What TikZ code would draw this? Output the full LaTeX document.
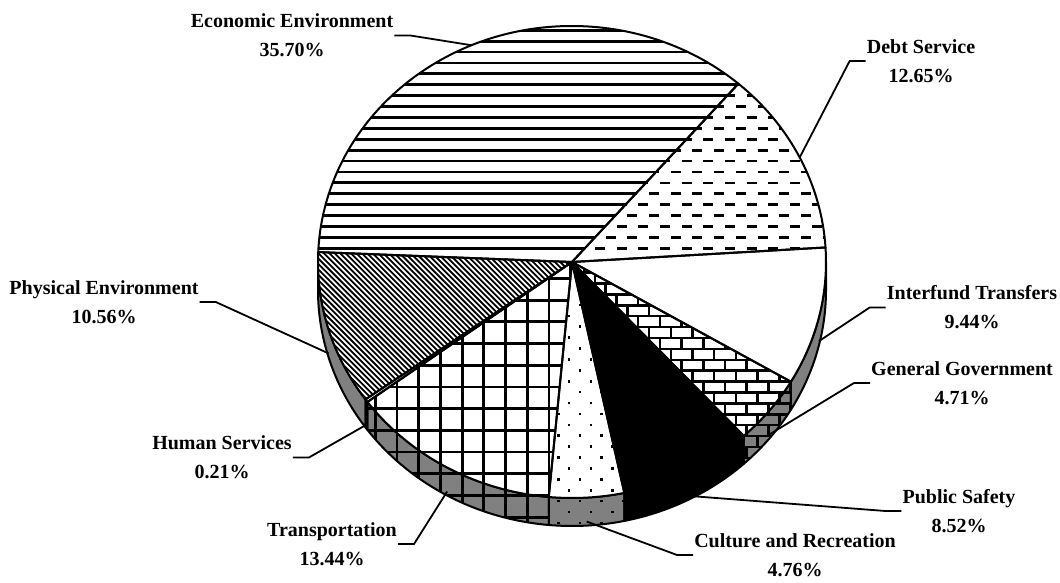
\documentclass[tikz,border=0pt]{standalone}
\usepackage{fontspec}
\setmainfont{Liberation Serif}
\usetikzlibrary{calc}
\definecolor{sidegray}{RGB}{128,128,128}
\newcommand{\pieRx}{254pt}
\newcommand{\pieRy}{236pt}
\newcommand{\pieslice}[2]{(C) -- ($(C)+(#1:254pt and 236pt)$) arc[start angle=#1, end angle=#2, x radius=\pieRx, y radius=\pieRy] -- cycle}
\newcommand{\pieside}[2]{($(C)+(#1:254pt and 236pt)$) arc[start angle=#1, end angle=#2, x radius=\pieRx, y radius=\pieRy] -- ++(0,-28) arc[start angle=#2, end angle=#1, x radius=\pieRx, y radius=\pieRy] -- cycle}
\newcommand{\econlines}{\foreach \k in {0,...,21} \draw[line width=2.8pt] (300,{333.7+10.9*\k}) -- (840,{333.7+10.9*\k});}
\newcommand{\debtdashes}{\foreach \k in {0,...,18} {\pgfmathsetmacro{\xs}{508+10.85*mod(\k,2)} \draw[line width=2.7pt, dash pattern=on 10pt off 11.7pt] (\xs,{333.7+10.9*\k}) -- (850,{333.7+10.9*\k});}}
\newcommand{\bricks}{\foreach \k in {-12,...,10} {\pgfmathsetmacro{\xs}{725+10.85*mod(abs(\k),2)} \draw[line width=2.5pt] (560,{211.3+10.9*\k}) -- (840,{211.3+10.9*\k}); \foreach \n in {-8,...,6} \draw[line width=2.5pt] ({\xs+21.7*\n},{211.3+10.9*\k}) -- ({\xs+21.7*\n},{222.2+10.9*\k});}}
\newcommand{\gridlines}{\foreach \n in {-2,...,9} \draw[line width=2.8pt] ({397+21.7*\n},40) -- ({397+21.7*\n},330); \foreach \k in {-4,...,9} \draw[line width=2.8pt] (340,{130+21.7*\k}) -- (580,{130+21.7*\k});}
\newcommand{\cultdots}{\foreach \k in {-8,...,17} {\pgfmathsetmacro{\xs}{569-10.85*mod(abs(\k),2)} \foreach \n in {-2,...,3} \fill ({\xs+21.7*\n-1.2},{135.3+10.9*\k-1.2}) rectangle ++(2.6,2.6);}}
\newcommand{\diaglines}{\foreach \n in {0,...,80} \draw[line width=1.8pt] ({490+5.42*\n-160},160) -- ({490+5.42*\n-345},345);}

\begin{document}
\begin{tikzpicture}[x=1pt, y=1pt,
	rim/.style={line width=2pt, line join=round},
	lbl/.style={font=\bfseries\fontsize{20}{29}\selectfont, align=center, inner sep=1pt},
	leader/.style={line width=1.8pt}]
	\useasboundingbox (0,0) rectangle (1060,582);
	\coordinate (C) at (572,320);

	\fill[sidegray] \pieside{0}{-30.48};
	\begin{scope} \clip \pieside{-30.48}{-47.44}; \fill[sidegray] (550,0) rectangle (850,340); \bricks \end{scope}
	\fill \pieside{-47.44}{-78.11};
	\begin{scope} \clip \pieside{-78.11}{-95.25}; \fill[sidegray] (500,0) rectangle (650,340); \cultdots \end{scope}
	\begin{scope} \clip \pieside{-95.25}{-143.63}; \fill[sidegray] (300,0) rectangle (600,340); \gridlines \end{scope}
	\fill[sidegray] \pieside{-143.63}{-144.39};
	\fill[sidegray] \pieside{-144.39}{-180};
	\foreach \a/\b in {0/-30.48, -30.48/-47.44, -47.44/-78.11, -78.11/-95.25, -95.25/-143.63, -143.63/-144.39, -144.39/-180} \draw[rim] \pieside{\a}{\b};

	\fill[white] (C) ellipse[x radius=\pieRx, y radius=\pieRy];
	\begin{scope} \clip \pieslice{177.59}{49.07}; \econlines \end{scope}
	\begin{scope} \clip \pieslice{49.07}{3.53}; \debtdashes \end{scope}
	\begin{scope} \clip \pieslice{-30.48}{-47.44}; \bricks \end{scope}
	\fill \pieslice{-47.44}{-78.11};
	\begin{scope} \clip \pieslice{-78.11}{-95.25}; \cultdots \end{scope}
	\begin{scope} \clip \pieslice{-95.25}{-143.63}; \gridlines \end{scope}
	\begin{scope} \clip \pieslice{-144.39}{-182.41}; \diaglines \end{scope}
	\foreach \a/\b in {177.59/49.07, 49.07/3.53, 3.53/-30.48, -30.48/-47.44, -47.44/-78.11, -78.11/-95.25, -95.25/-143.63, -143.63/-144.39, -144.39/-182.41} \draw[rim] \pieslice{\a}{\b};

	\node[lbl] (econ) at (292,546.5) {Economic Environment\\35.70\%};
	\node[lbl] (debt) at (921,521) {Debt Service\\12.65\%};
	\node[lbl] (fund) at (972,274.5) {Interfund Transfers\\9.44\%};
	\node[lbl] (govt) at (962,199) {General Government\\4.71\%};
	\node[lbl] (safe) at (959,71) {Public Safety\\8.52\%};
	\node[lbl] (cult) at (795,27) {Culture and Recreation\\4.76\%};
	\node[lbl] (trans) at (332,38) {Transportation\\13.44\%};
	\node[lbl] (human) at (222,124.5) {Human Services\\0.21\%};
	\node[lbl] (phys) at (104,280) {Physical Environment\\10.56\%};

	\coordinate (econ-tip) at ($(C)+(113.3:254pt and 236pt)$);
	\coordinate (debt-tip) at ($(C)+(26.3:254pt and 236pt)$);
	\coordinate (fund-tip) at ($(C)+(0,-24)+(-13.5:254pt and 236pt)$);
	\coordinate (govt-tip) at ($(C)+(0,-24)+(-38.96:254pt and 236pt)$);
	\coordinate (safe-tip) at ($(C)+(0,-24)+(-62.78:254pt and 236pt)$);
	\coordinate (cult-tip) at ($(C)+(0,-24)+(-86.68:254pt and 236pt)$);
	\coordinate (trans-tip) at ($(C)+(0,-24)+(-119.44:254pt and 236pt)$);
	\coordinate (human-tip) at ($(C)+(0,-24)+(-144.01:254pt and 236pt)$);
	\coordinate (phys-tip) at ($(C)+(0,-24)+(-163.4:254pt and 236pt)$);

	\draw[leader] (econ.east) -- ++(16,0) -- (econ-tip);
	\draw[leader] (debt.west) -- ++(-16,0) -- (debt-tip);
	\draw[leader] (fund.west) -- ++(-16,0) -- (fund-tip);
	\draw[leader] (govt.west) -- ++(-16,0) -- (govt-tip);
	\draw[leader] (safe.west) -- ++(-16,0) -- (safe-tip);
	\draw[leader] (cult.west) -- ++(-16,0) -- (cult-tip);
	\draw[leader] (trans.east) -- ++(16,0) -- (trans-tip);
	\draw[leader] (human.east) -- ++(16,0) -- (human-tip);
	\draw[leader] (phys.east) -- ++(16,0) -- (phys-tip);
\end{tikzpicture}
\end{document}
